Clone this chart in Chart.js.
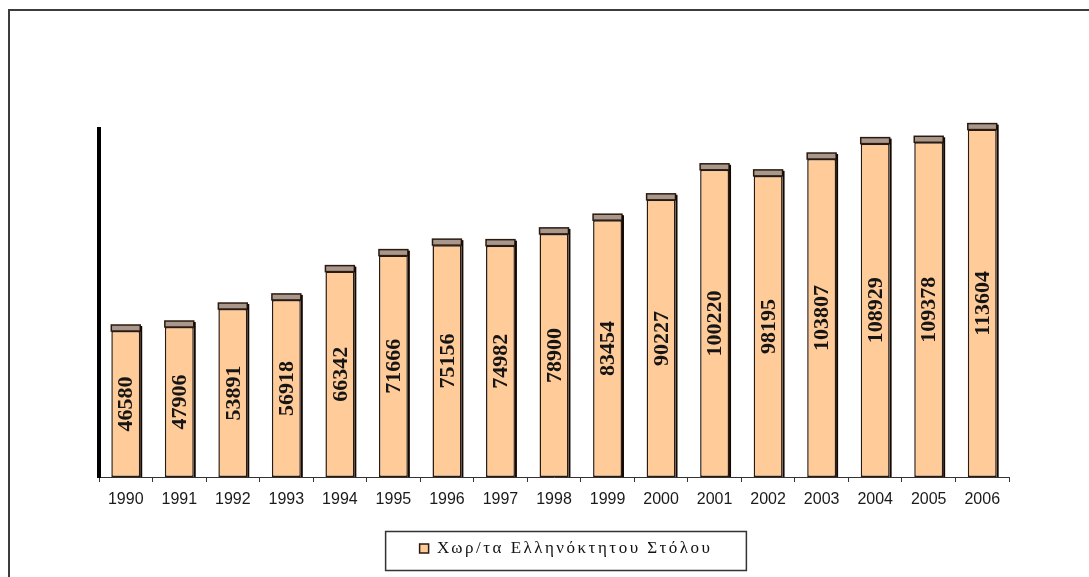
<!DOCTYPE html>
<html>
<head>
<meta charset="utf-8">
<script src="https://cdn.jsdelivr.net/npm/chart.js@4.4.1/dist/chart.umd.min.js"></script>
<style>
  html, body { margin: 0; padding: 0; background: #ffffff; overflow: hidden; width: 1089px; height: 577px; }
  #frame { position: absolute; left: 8px; top: 9px; width: 1200px; height: 700px; border: 2px solid #3c3c3c; box-sizing: border-box; }
  #wrap { position: absolute; left: 0; top: 0; width: 1089px; height: 577px; }
</style>
</head>
<body>
<div id="frame"></div>
<div id="wrap"><canvas id="c"></canvas></div>
<script>
// ---- data ----
const years = ['1990','1991','1992','1993','1994','1995','1996','1997','1998','1999','2000','2001','2002','2003','2004','2005','2006'];
const fleetValues = [46580, 47906, 53891, 56918, 66342, 71666, 75156, 74982, 78900, 83454, 90227, 100220, 98195, 103807, 108929, 109378, 113604];
const seriesName = 'Χωρ/τα Ελληνόκτητου Στόλου';

// ---- styles ----
const BAR_FILL = '#FFCB98';
const BAR_EDGE = '#2a1a10';
const CAP_FILL = '#a8978a';
const CAP_H = 6;
const LEGEND_SPACING = '2.5px';

const decor = {
  id: 'decor',
  afterInit(chart) {
    const lg = chart.legend;
    if (!lg) return;
    const fit = lg.fit.bind(lg);
    const draw = lg.draw.bind(lg);
    lg.fit = function () {
      const ctx = chart.ctx;
      ctx.save();
      ctx.letterSpacing = LEGEND_SPACING;
      fit();
      ctx.restore();
      if (this.isHorizontal()) this.height = 55;
    };
    lg.draw = function () {
      const ctx = chart.ctx;
      ctx.save();
      ctx.letterSpacing = LEGEND_SPACING;
      draw();
      ctx.restore();
    };
  },
  afterLayout(chart) {
    const lg = chart.legend;
    if (lg) { lg.left += 12; lg.right += 12; }
  },
  afterDatasetsDraw(chart) {
    const ctx = chart.ctx;
    const meta = chart.getDatasetMeta(0);
    ctx.save();
    ctx.letterSpacing = '0px';
    meta.data.forEach((bar, i) => {
      const p = bar.getProps(['x', 'y', 'base', 'width'], true);
      const l = p.x - p.width / 2, r = p.x + p.width / 2;
      // top face
      ctx.fillStyle = CAP_FILL;
      ctx.fillRect(l, p.y - CAP_H, p.width, CAP_H);
      ctx.strokeStyle = BAR_EDGE;
      ctx.lineWidth = 1.5;
      ctx.strokeRect(l, p.y - CAP_H, p.width, CAP_H);
      // side shadow
      ctx.fillStyle = '#140800';
      ctx.fillRect(r, p.y - CAP_H + 1, 2, p.base - p.y + CAP_H - 1);
      // value label
      ctx.save();
      ctx.translate(p.x, (p.y + p.base) / 2);
      ctx.rotate(-Math.PI / 2);
      ctx.font = 'bold 22px "Liberation Serif", "Times New Roman", serif';
      ctx.fillStyle = '#151515';
      ctx.textAlign = 'center';
      ctx.textBaseline = 'middle';
      ctx.fillText(String(fleetValues[i]), 0, 1);
      ctx.restore();
    });
    ctx.restore();
  },
  afterDraw(chart) {
    const lg = chart.legend;
    if (!lg || !lg.legendHitBoxes || !lg.legendHitBoxes.length) return;
    const hb = lg.legendHitBoxes[0];
    const cy = hb.top + hb.height / 2;
    const ctx = chart.ctx;
    ctx.save();
    ctx.strokeStyle = '#333333';
    ctx.lineWidth = 1.5;
    ctx.strokeRect(hb.left - 34, cy - 17, hb.width + 68, 39);
    ctx.restore();
  }
};

new Chart(document.getElementById('c'), {
  type: 'bar',
  data: {
    labels: years,
    datasets: [{
      label: seriesName,
      data: fleetValues,
      backgroundColor: BAR_FILL,
      borderColor: BAR_EDGE,
      borderWidth: 1.5,
      borderSkipped: false,
      barPercentage: 0.54,
      categoryPercentage: 1.0,
      base: -2000
    }]
  },
  options: {
    responsive: true,
    maintainAspectRatio: false,
    animation: false,
    layout: { padding: { left: 99, right: 80, top: 129, bottom: 5 } },
    plugins: {
      tooltip: { enabled: false },
      legend: {
        display: true,
        position: 'bottom',
        labels: {
          boxWidth: 9,
          boxHeight: 9,
          padding: 23,
          color: '#111111',
          font: { family: '"Liberation Serif", "Times New Roman", serif', size: 17 }
        }
      }
    },
    scales: {
      x: {
        grid: { display: true, drawOnChartArea: false, offset: true, tickLength: 5, color: '#333333', tickWidth: 1 },
        border: { display: true, color: '#333333', width: 1 },
        ticks: { color: '#1a1a1a', padding: 8, maxRotation: 0, font: { family: '"Liberation Sans", Arial, sans-serif', size: 16 } },
        afterFit: (s) => { s.height = 40; }
      },
      y: {
        min: -2000,
        max: 113800,
        grid: { display: false },
        border: { display: true, color: '#000000', width: 4 },
        ticks: { display: false },
        afterFit: (s) => { s.width = 0; }
      }
    }
  },
  plugins: [decor]
});
</script>
</body>
</html>
